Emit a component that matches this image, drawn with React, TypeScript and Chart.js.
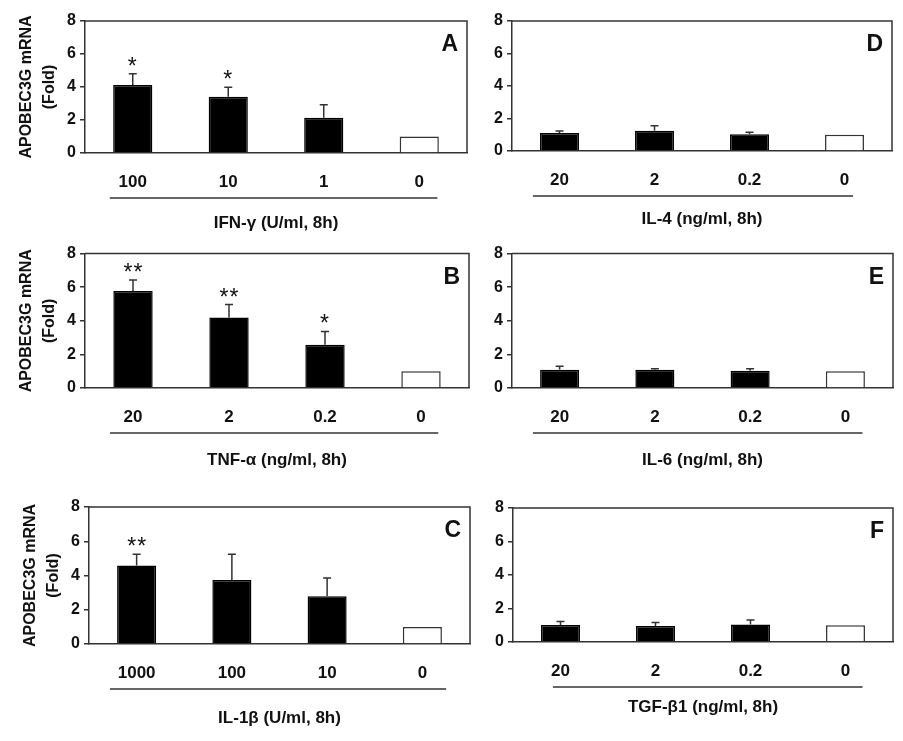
import React, { useEffect, useRef } from 'react';
import { Chart, registerables } from 'chart.js';
Chart.register(...registerables);

// ---------------- data ----------------
const dosesA = ['100', '10', '1', '0'];
const meansA = [4.12, 3.41, 2.14, 1.0];
const sdsA = [0.68, 0.57, 0.79, 0];
const starsA = ['*', '*', '', ''];

const dosesB = ['20', '2', '0.2', '0'];
const meansB = [5.77, 4.19, 2.57, 1.0];
const sdsB = [0.66, 0.78, 0.8, 0];
const starsB = ['**', '**', '*', ''];

const dosesC = ['1000', '100', '10', '0'];
const meansC = [4.58, 3.74, 2.79, 1.0];
const sdsC = [0.66, 1.5, 1.07, 0];
const starsC = ['**', '', '', ''];

const dosesD = ['20', '2', '0.2', '0'];
const meansD = [1.11, 1.25, 1.03, 1.0];
const sdsD = [0.12, 0.31, 0.12, 0];
const starsD = ['', '', '', ''];

const dosesE = ['20', '2', '0.2', '0'];
const meansE = [1.09, 1.09, 1.02, 1.0];
const sdsE = [0.2, 0.06, 0.13, 0];
const starsE = ['', '', '', ''];

const dosesF = ['20', '2', '0.2', '0'];
const meansF = [1.02, 0.96, 1.04, 1.0];
const sdsF = [0.2, 0.2, 0.28, 0];
const starsF = ['', '', '', ''];

const yTicks = [0, 2, 4, 6, 8];
const yTitleLines = ['APOBEC3G mRNA', '(Fold)'];

// ---------------- layout ----------------
const FONT = '"Liberation Sans", Arial, Helvetica, sans-serif';
const LINE = '#333333';
const TEXT = '#111111';

type Panel = {
  letter: string;
  labels: string[];
  means: number[];
  sds: number[];
  stars: string[];
  title: string;
  yTitle: boolean;
  box: { x: number; y: number; w: number; h: number };
  area: { l: number; t: number; r: number; b: number };
  line: [number, number];
  titleDy: number;
};

const panels: Panel[] = [
  { letter: 'A', labels: dosesA, means: meansA, sds: sdsA, stars: starsA, title: 'IFN-γ (U/ml, 8h)', yTitle: true,
    box: { x: 0, y: 0, w: 472, h: 240 }, area: { l: 85, t: 21, r: 467, b: 153 }, line: [-0.24, 3.19], titleDy: 70 },
  { letter: 'B', labels: dosesB, means: meansB, sds: sdsB, stars: starsB, title: 'TNF-α (ng/ml, 8h)', yTitle: true,
    box: { x: 0, y: 240, w: 472, h: 240 }, area: { l: 85, t: 251, r: 469, b: 388 }, line: [-0.24, 3.18], titleDy: 72 },
  { letter: 'C', labels: dosesC, means: meansC, sds: sdsC, stars: starsC, title: 'IL-1β (U/ml, 8h)', yTitle: true,
    box: { x: 0, y: 480, w: 472, h: 261 }, area: { l: 89, t: 507, r: 470, b: 644 }, line: [-0.28, 3.25], titleDy: 74 },
  { letter: 'D', labels: dosesD, means: meansD, sds: sdsD, stars: starsD, title: 'IL-4 (ng/ml, 8h)', yTitle: false,
    box: { x: 475, y: 0, w: 428, h: 240 }, area: { l: 512, t: 21, r: 892, b: 151 }, line: [-0.28, 3.09], titleDy: 68 },
  { letter: 'E', labels: dosesE, means: meansE, sds: sdsE, stars: starsE, title: 'IL-6 (ng/ml, 8h)', yTitle: false,
    box: { x: 475, y: 240, w: 428, h: 240 }, area: { l: 512, t: 251, r: 893, b: 388 }, line: [-0.28, 3.18], titleDy: 72 },
  { letter: 'F', labels: dosesF, means: meansF, sds: sdsF, stars: starsF, title: 'TGF-β1 (ng/ml, 8h)', yTitle: false,
    box: { x: 475, y: 480, w: 428, h: 261 }, area: { l: 513, t: 508, r: 893, b: 642 }, line: [-0.08, 3.18], titleDy: 65 },
];

const decorPlugin = {
  id: 'decor',
  afterDatasetsDraw(chart: any, _args: any, opts: any) {
    const p: Panel = opts.panel;
    if (!p) return;
    const { ctx, chartArea: a, scales } = chart;
    const x = scales.x;
    const y = scales.y;
    ctx.save();
    ctx.strokeStyle = LINE;
    ctx.lineWidth = 1.5;
    ctx.lineCap = 'butt';

    // error bars
    p.means.forEach((m, i) => {
      const sd = p.sds[i];
      if (!sd) return;
      const cx = x.getPixelForValue(i);
      const y0 = y.getPixelForValue(m);
      const y1 = y.getPixelForValue(m + sd);
      ctx.beginPath();
      ctx.moveTo(cx, y0);
      ctx.lineTo(cx, y1);
      ctx.moveTo(cx - 4, y1);
      ctx.lineTo(cx + 4, y1);
      ctx.stroke();
    });

    // significance stars
    ctx.fillStyle = TEXT;
    ctx.font = `23px ${FONT}`;
    ctx.textAlign = 'center';
    ctx.textBaseline = 'alphabetic';
    p.stars.forEach((s, i) => {
      if (!s) return;
      const cx = x.getPixelForValue(i);
      const yTop = y.getPixelForValue(p.means[i] + p.sds[i]);
      ctx.save();
      ctx.letterSpacing = '1px';
      ctx.fillText(s, cx + (s.length > 1 ? 0.5 : 0), yTop);
      ctx.restore();
    });

    // top and right frame
    ctx.beginPath();
    ctx.moveTo(a.left, a.top);
    ctx.lineTo(a.right, a.top);
    ctx.lineTo(a.right, a.bottom);
    ctx.stroke();

    // panel letter
    ctx.font = `bold 23px ${FONT}`;
    ctx.textAlign = 'right';
    ctx.textBaseline = 'middle';
    ctx.fillText(p.letter, a.right - 9, a.top + 24);

    // underline under dose labels
    const lx0 = x.getPixelForValue(p.line[0]);
    const lx1 = x.getPixelForValue(p.line[1]);
    ctx.lineWidth = 1.3;
    ctx.beginPath();
    ctx.moveTo(lx0, a.bottom + 45);
    ctx.lineTo(lx1, a.bottom + 45);
    ctx.stroke();

    // x title
    ctx.font = `bold 17px ${FONT}`;
    ctx.textAlign = 'center';
    ctx.textBaseline = 'middle';
    ctx.fillText(p.title, (a.left + a.right) / 2, a.bottom + p.titleDy);

    // y title
    if (p.yTitle) {
      const cy = (a.top + a.bottom) / 2;
      ctx.font = `bold 16px ${FONT}`;
      [58, 35].forEach((off, k) => {
        ctx.save();
        ctx.translate(a.left - off, cy);
        ctx.rotate(-Math.PI / 2);
        ctx.fillText(yTitleLines[k], 0, 0);
        ctx.restore();
      });
    }
    ctx.restore();
  },
};

function PanelChart({ panel }: { panel: Panel }) {
  const ref = useRef<HTMLCanvasElement | null>(null);
  useEffect(() => {
    if (!ref.current) return;
    const { box, area } = panel;
    const yWidth = area.l - box.x;
    const xHeight = box.y + box.h - area.b;
    const chart = new Chart(ref.current, {
      type: 'bar',
      data: {
        labels: panel.labels,
        datasets: [
          {
            data: panel.means,
            backgroundColor: panel.means.map((_, i) => (i === panel.means.length - 1 ? '#ffffff' : '#000000')),
            borderColor: panel.means.map((_, i) => (i === panel.means.length - 1 ? LINE : '#000000')),
            borderWidth: 1.5,
            barPercentage: 0.41,
            categoryPercentage: 1,
          },
        ],
      },
      options: {
        responsive: false,
        animation: false,
        devicePixelRatio: window.devicePixelRatio || 1,
        layout: {
          padding: { top: area.t - box.y, right: box.x + box.w - area.r, left: 0, bottom: 0 },
        },
        plugins: {
          legend: { display: false },
          tooltip: { enabled: false },
          title: { display: false },
          decor: { panel },
        } as any,
        scales: {
          x: {
            grid: { display: true, drawOnChartArea: false, drawTicks: false, color: LINE },
            border: { display: true, color: LINE, width: 1.5 },
            ticks: {
              autoSkip: false,
              maxRotation: 0,
              minRotation: 0,
              padding: 19,
              color: TEXT,
              font: { family: FONT, size: 17, weight: 'bold' },
            },
            afterFit: (s: any) => {
              s.height = xHeight;
            },
          },
          y: {
            min: 0,
            max: 8,
            afterBuildTicks: (s: any) => {
              s.ticks = yTicks.map((v) => ({ value: v }));
            },
            grid: { display: true, drawOnChartArea: false, drawTicks: true, tickLength: 5, color: LINE, lineWidth: 1.5 },
            border: { display: true, color: LINE, width: 1.5 },
            ticks: {
              padding: 4,
              color: TEXT,
              font: { family: FONT, size: 16, weight: 'bold' },
            },
            afterFit: (s: any) => {
              s.width = yWidth;
            },
          },
        },
      },
      plugins: [decorPlugin],
    });
    return () => chart.destroy();
  }, [panel]);
  const { box } = panel;
  return (
    <canvas
      ref={ref}
      width={box.w}
      height={box.h}
      style={{ position: 'absolute', left: box.x, top: box.y, width: box.w, height: box.h }}
    />
  );
}

export default function App() {
  return (
    <div style={{ position: 'absolute', left: 0, top: 0, width: 903, height: 741, background: '#ffffff', overflow: 'hidden' }}>
      {panels.map((p) => (
        <PanelChart key={p.letter} panel={p} />
      ))}
    </div>
  );
}
